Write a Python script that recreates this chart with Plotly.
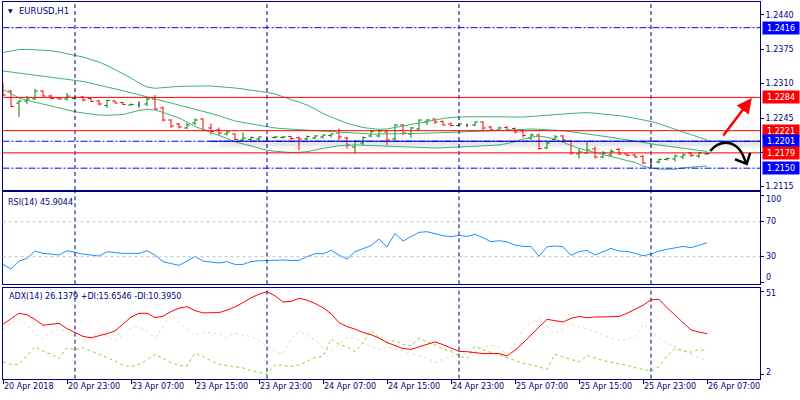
import numpy as np
import plotly.graph_objects as go

# ---------------- data ----------------
opens = [1.23075, 1.22961, 1.22734, 1.22772, 1.22810, 1.22961, 1.22866, 1.22829, 1.22810, 1.22819,
         1.22847, 1.22819, 1.22772, 1.22687, 1.22772, 1.22744, 1.22696, 1.22706, 1.22715, 1.22810,
         1.22640, 1.22412, 1.22336, 1.22261, 1.22355, 1.22431, 1.22261, 1.22223, 1.22147, 1.22147,
         1.22034, 1.22043, 1.22053, 1.22062, 1.22081, 1.22081, 1.22100, 1.22081, 1.22053, 1.22072,
         1.22091, 1.22119, 1.22166, 1.22072, 1.21901, 1.21977, 1.22110, 1.22110, 1.22185, 1.22053,
         1.22317, 1.22147, 1.22242, 1.22374, 1.22431, 1.22384, 1.22336, 1.22308, 1.22308, 1.22317,
         1.22374, 1.22280, 1.22223, 1.22270, 1.22251, 1.22204, 1.22072, 1.22128, 1.21883, 1.22043,
         1.22110, 1.22015, 1.21769, 1.21788, 1.21864, 1.21712, 1.21750, 1.21854, 1.21769, 1.21750,
         1.21722, 1.21608, 1.21617, 1.21665, 1.21674, 1.21712, 1.21788, 1.21731, 1.21769]
highs = [1.23113, 1.22980, 1.22782, 1.22866, 1.23000, 1.22971, 1.22895, 1.22838, 1.22923, 1.22866,
         1.22866, 1.22838, 1.22791, 1.22791, 1.22782, 1.22753, 1.22725, 1.22763, 1.22838, 1.22885,
         1.22668, 1.22421, 1.22355, 1.22355, 1.22441, 1.22441, 1.22345, 1.22270, 1.22223, 1.22157,
         1.22176, 1.22100, 1.22100, 1.22100, 1.22110, 1.22110, 1.22110, 1.22100, 1.22119, 1.22128,
         1.22138, 1.22157, 1.22251, 1.22091, 1.22034, 1.22100, 1.22223, 1.22223, 1.22204, 1.22336,
         1.22336, 1.22280, 1.22421, 1.22431, 1.22441, 1.22403, 1.22365, 1.22345, 1.22345, 1.22384,
         1.22384, 1.22298, 1.22289, 1.22298, 1.22270, 1.22223, 1.22157, 1.22157, 1.22006, 1.22128,
         1.22128, 1.22034, 1.21864, 1.22006, 1.21911, 1.21826, 1.21864, 1.21883, 1.21778, 1.21769,
         1.21750, 1.21674, 1.21684, 1.21703, 1.21760, 1.21778, 1.21807, 1.21807, 1.21797]
lows = [1.22866, 1.22658, 1.22469, 1.22715, 1.22791, 1.22857, 1.22800, 1.22791, 1.22782, 1.22791,
        1.22763, 1.22753, 1.22687, 1.22640, 1.22725, 1.22696, 1.22687, 1.22649, 1.22677, 1.22602,
        1.22384, 1.22261, 1.22251, 1.22242, 1.22317, 1.22204, 1.22138, 1.22128, 1.22119, 1.22034,
        1.22015, 1.22025, 1.22015, 1.22025, 1.22062, 1.22062, 1.22034, 1.21836, 1.22034, 1.22053,
        1.22062, 1.22081, 1.22025, 1.21873, 1.21778, 1.21939, 1.22081, 1.22081, 1.21939, 1.22025,
        1.22128, 1.22081, 1.22223, 1.22317, 1.22336, 1.22308, 1.22289, 1.22298, 1.22280, 1.22298,
        1.22214, 1.22204, 1.22204, 1.22204, 1.22157, 1.22081, 1.22034, 1.21845, 1.21864, 1.22034,
        1.22006, 1.21750, 1.21684, 1.21778, 1.21684, 1.21693, 1.21722, 1.21750, 1.21722, 1.21693,
        1.21580, 1.21523, 1.21589, 1.21646, 1.21627, 1.21674, 1.21712, 1.21693, 1.21750]
closes = [1.22885, 1.22668, 1.22772, 1.22810, 1.22961, 1.22866, 1.22819, 1.22810, 1.22866, 1.22838,
          1.22791, 1.22763, 1.22715, 1.22782, 1.22734, 1.22706, 1.22706, 1.22706, 1.22810, 1.22621,
          1.22412, 1.22298, 1.22279, 1.22317, 1.22412, 1.22223, 1.22195, 1.22166, 1.22185, 1.22043,
          1.22072, 1.22081, 1.22091, 1.22062, 1.22091, 1.22091, 1.22062, 1.22053, 1.22100, 1.22110,
          1.22128, 1.22147, 1.22091, 1.21939, 1.22006, 1.22081, 1.22195, 1.22204, 1.22034, 1.22317,
          1.22166, 1.22261, 1.22412, 1.22412, 1.22374, 1.22317, 1.22308, 1.22336, 1.22308, 1.22374,
          1.22261, 1.22223, 1.22261, 1.22223, 1.22185, 1.22119, 1.22128, 1.21873, 1.21977, 1.22091,
          1.22034, 1.21788, 1.21807, 1.21845, 1.21712, 1.21788, 1.21817, 1.21769, 1.21741, 1.21712,
          1.21598, 1.21608, 1.21665, 1.21684, 1.21731, 1.21750, 1.21741, 1.21788, 1.21778]

bb_upper = [1.23690, 1.23718, 1.23746, 1.23750, 1.23746, 1.23737, 1.23724, 1.23699, 1.23671, 1.23642,
            1.23604, 1.23557, 1.23510, 1.23444, 1.23368, 1.23293, 1.23208, 1.23113, 1.23037, 1.23012,
            1.23018, 1.23037, 1.23050, 1.23056, 1.23056, 1.23056, 1.23056, 1.23047, 1.23037, 1.23018,
            1.22999, 1.22980, 1.22952, 1.22933, 1.22904, 1.22847, 1.22800, 1.22753, 1.22696, 1.22621,
            1.22536, 1.22469, 1.22403, 1.22350, 1.22308, 1.22270, 1.22251, 1.22236, 1.22242, 1.22270,
            1.22298, 1.22327, 1.22355, 1.22380, 1.22421, 1.22440, 1.22459, 1.22469, 1.22474, 1.22474,
            1.22472, 1.22469, 1.22469, 1.22469, 1.22469, 1.22469, 1.22478, 1.22492, 1.22507, 1.22516,
            1.22526, 1.22536, 1.22545, 1.22551, 1.22541, 1.22530, 1.22511, 1.22494, 1.22474, 1.22446,
            1.22416, 1.22384, 1.22340, 1.22289, 1.22245, 1.22195, 1.22138, 1.22087, 1.22034]
bb_middle = [1.23340, 1.23321, 1.23302, 1.23279, 1.23260, 1.23241, 1.23226, 1.23211, 1.23191, 1.23170,
             1.23142, 1.23108, 1.23075, 1.23043, 1.23003, 1.22965, 1.22927, 1.22885, 1.22847, 1.22810,
             1.22772, 1.22734, 1.22696, 1.22664, 1.22621, 1.22574, 1.22536, 1.22492, 1.22441, 1.22393,
             1.22365, 1.22336, 1.22308, 1.22280, 1.22261, 1.22248, 1.22238, 1.22227, 1.22217, 1.22208,
             1.22198, 1.22191, 1.22181, 1.22172, 1.22162, 1.22155, 1.22147, 1.22147, 1.22147, 1.22147,
             1.22151, 1.22155, 1.22159, 1.22162, 1.22166, 1.22170, 1.22176, 1.22181, 1.22185, 1.22193,
             1.22200, 1.22208, 1.22213, 1.22221, 1.22229, 1.22236, 1.22242, 1.22236, 1.22229, 1.22219,
             1.22208, 1.22189, 1.22170, 1.22151, 1.22132, 1.22110, 1.22085, 1.22060, 1.22034, 1.22009,
             1.21985, 1.21962, 1.21939, 1.21920, 1.21898, 1.21873, 1.21851, 1.21832, 1.21817]
bb_lower = [1.22993, 1.22904, 1.22829, 1.22785, 1.22747, 1.22710, 1.22677, 1.22640, 1.22602, 1.22570,
            1.22545, 1.22522, 1.22507, 1.22501, 1.22503, 1.22517, 1.22555, 1.22593, 1.22615, 1.22602,
            1.22555, 1.22498, 1.22450, 1.22374, 1.22289, 1.22232, 1.22179, 1.22128, 1.22062, 1.22000,
            1.21958, 1.21920, 1.21873, 1.21841, 1.21820, 1.21803, 1.21797, 1.21801, 1.21812, 1.21845,
            1.21877, 1.21901, 1.21926, 1.21939, 1.21939, 1.21934, 1.21928, 1.21920, 1.21915, 1.21911,
            1.21905, 1.21901, 1.21896, 1.21890, 1.21883, 1.21888, 1.21898, 1.21905, 1.21911, 1.21917,
            1.21924, 1.21932, 1.21939, 1.21968, 1.22000, 1.22050, 1.22090, 1.22105, 1.22085, 1.22047,
            1.21990, 1.21920, 1.21873, 1.21835, 1.21797, 1.21760, 1.21722, 1.21688, 1.21655, 1.21608,
            1.21542, 1.21504, 1.21481, 1.21476, 1.21480, 1.21504, 1.21523, 1.21532, 1.21542]

rsi = [21.2, 15.9, 25.0, 28.1, 36.5, 33.8, 33.0, 31.9, 36.9, 34.6,
       33.0, 31.9, 30.8, 35.7, 34.6, 33.8, 33.8, 33.8, 36.9, 31.9,
       24.3, 22.0, 20.1, 25.0, 30.4, 25.0, 24.3, 22.8, 24.3, 21.2,
       21.2, 24.3, 25.4, 25.8, 26.2, 26.2, 25.8, 25.8, 30.0, 33.4,
       33.4, 37.2, 31.9, 27.3, 35.7, 39.5, 42.6, 50.2, 41.0, 56.7,
       47.9, 52.9, 57.8, 58.6, 55.9, 54.0, 52.9, 54.4, 53.2, 55.5,
       51.7, 47.1, 48.3, 47.1, 43.3, 41.8, 41.8, 30.4, 41.4, 42.2,
       41.4, 31.5, 35.7, 37.2, 31.9, 36.1, 39.5, 36.5, 36.1, 33.8,
       31.1, 33.0, 36.5, 38.4, 39.9, 41.8, 40.3, 43.3, 45.9044]

adx = [31.7, 34.9, 38.2, 37.3, 34.5, 31.1, 31.5, 32.2, 29.1, 26.9,
       24.5, 23.6, 24.7, 26.1, 27.7, 32.0, 35.9, 38.2, 38.2, 35.6,
       36.4, 39.2, 41.2, 42.1, 39.8, 38.4, 38.3, 38.6, 40.0, 42.0,
       44.5, 47.3, 49.5, 51.0, 48.5, 44.9, 45.2, 47.1, 46.0, 44.0,
       41.5, 38.0, 32.6, 30.3, 28.8, 26.8, 25.5, 23.5, 20.8, 19.0,
       17.3, 16.8, 18.3, 19.8, 21.2, 19.6, 17.5, 15.6, 15.4, 14.9,
       14.3, 14.3, 14.3, 12.9, 16.3, 20.5, 25.5, 30.0, 34.6, 33.8,
       33.0, 35.2, 36.3, 35.5, 36.0, 36.0, 36.0, 36.3, 38.2, 40.5,
       42.9, 46.1, 46.5, 41.5, 37.0, 32.5, 28.3, 27.0, 26.1379]
plus_di = [9.3, 7.9, 7.9, 12.9, 18.4, 15.8, 13.9, 11.3, 17.8, 16.4,
           17.8, 15.8, 13.9, 11.9, 9.9, 7.3, 6.5, 7.9, 10.5, 13.9,
           11.5, 9.0, 7.2, 6.9, 14.5, 12.5, 10.0, 8.0, 7.2, 6.3,
           5.8, 4.2, 3.0, 2.0, 7.7, 7.2, 6.6, 7.5, 9.8, 11.9,
           12.5, 22.8, 19.8, 18.4, 15.5, 20.5, 28.0, 23.7, 20.8, 22.0,
           19.5, 18.8, 23.5, 21.2, 19.4, 17.0, 15.6, 13.1, 11.3, 18.8,
           16.4, 15.2, 13.6, 11.8, 10.0, 8.6, 7.7, 6.4, 5.0, 13.9,
           12.5, 10.9, 9.3, 13.2, 11.6, 10.2, 9.1, 8.2, 7.3, 5.9,
           4.8, 4.0, 6.5, 12.9, 17.3, 15.8, 15.1, 16.8, 15.6546]
minus_di = [28.7, 32.0, 34.6, 31.5, 26.0, 23.2, 27.0, 29.0, 26.7, 24.7,
            21.8, 24.5, 26.5, 24.7, 21.8, 25.7, 29.3, 30.3, 27.5, 23.7,
            30.7, 37.0, 32.6, 29.0, 25.0, 26.7, 26.7, 25.9, 23.5, 26.5,
            25.0, 24.6, 22.0, 18.5, 15.5, 13.9, 23.0, 27.5, 25.0, 22.5,
            17.5, 15.8, 20.0, 23.5, 23.5, 20.5, 18.6, 16.6, 18.5, 17.2,
            15.8, 14.2, 13.0, 11.5, 8.9, 10.9, 12.4, 13.9, 14.3, 15.5,
            18.0, 19.2, 17.8, 13.9, 20.5, 28.7, 32.3, 35.3, 30.5, 26.5,
            28.5, 31.5, 30.0, 29.0, 27.3, 25.5, 23.5, 21.8, 23.0, 24.3,
            31.7, 28.0, 23.4, 20.5, 18.5, 16.1, 14.0, 11.8, 10.3950]

tick_bars = [0, 8, 16, 24, 32, 40, 48, 56, 64, 72, 80, 88]
tick_labels = ["20 Apr 2018", "20 Apr 23:00", "23 Apr 07:00", "23 Apr 15:00",
               "23 Apr 23:00", "24 Apr 07:00", "24 Apr 15:00", "24 Apr 23:00",
               "25 Apr 07:00", "25 Apr 15:00", "25 Apr 23:00", "26 Apr 07:00"]
day_start_bars = [9, 33, 57, 81]

price_ticks = [1.2115, 1.2180, 1.2245, 1.2310, 1.2375, 1.2440]
red_levels = [1.2284, 1.2221, 1.2179]
blue_dashdot_levels = [1.2416, 1.2201, 1.2150]
blue_solid_level = 1.2201
label_levels = [1.2416, 1.2284, 1.2221, 1.2201, 1.2179, 1.2150]
label_kinds = ["blue", "red", "red", "blue", "red", "blue"]
rsi_levels = [30, 70]
rsi_label_vals = [100, 70, 30, 0]
adx_label_vals = [51, 2]

# ---------------- styling ----------------
NAVY = "#000080"
RED = "#FF0000"
BLUE = "#0000FF"
GREEN_BAR = "#008000"
BB = "#3CB371"
FONT = "DejaVu Sans"

n = len(opens)
x = np.arange(n)
o = np.array(opens); h = np.array(highs); l = np.array(lows); c = np.array(closes)
doji = np.isclose(o, c)
nd = ~doji

XR = [-0.0625, 94.625]
XD = [2.5 / 800, 760 / 800]
YD_MAIN = [1 - 190 / 400, 1 - 2 / 400]
YD_RSI = [1 - 284.3 / 400, 1 - 191.7 / 400]
YD_ADX = [1 - 378.7 / 400, 1 - 287.7 / 400]

fig = go.Figure()

# Bollinger bands
for band in (bb_upper, bb_middle, bb_lower):
    fig.add_trace(go.Scatter(x=x, y=band, mode="lines", line=dict(color=BB, width=1),
                             xaxis="x3", yaxis="y3", hoverinfo="skip"))

# bars
fig.add_trace(go.Ohlc(x=x[nd], open=o[nd], high=h[nd], low=l[nd], close=c[nd],
                      increasing=dict(line=dict(color=GREEN_BAR, width=1)),
                      decreasing=dict(line=dict(color=RED, width=1)),
                      tickwidth=0.35, xaxis="x3", yaxis="y3", hoverinfo="skip"))
dx = x[doji]
fig.add_trace(go.Ohlc(x=dx, open=o[doji], high=h[doji], low=l[doji], close=c[doji],
                      increasing=dict(line=dict(color="#000000", width=1)),
                      decreasing=dict(line=dict(color="#000000", width=1)),
                      tickwidth=0.35 / float(np.min(np.diff(dx))), xaxis="x3", yaxis="y3",
                      hoverinfo="skip"))

# RSI
fig.add_trace(go.Scatter(x=x, y=rsi, mode="lines", line=dict(color="#1E90FF", width=1),
                         xaxis="x2", yaxis="y2", hoverinfo="skip"))
# ADX
fig.add_trace(go.Scatter(x=x, y=minus_di, mode="lines",
                         line=dict(color="#F5D7AE", width=1, dash="3px,3px"),
                         xaxis="x", yaxis="y", hoverinfo="skip"))
fig.add_trace(go.Scatter(x=x, y=plus_di, mode="lines",
                         line=dict(color="#9ACD32", width=1, dash="3px,3px"),
                         xaxis="x", yaxis="y", hoverinfo="skip"))
fig.add_trace(go.Scatter(x=x, y=adx, mode="lines", line=dict(color=RED, width=1),
                         xaxis="x", yaxis="y", hoverinfo="skip"))

shapes = []
# shadow under the blue trend segment
for (y0, y1, op, x0) in [(1.21864, 1.22091, 0.04, 25.6), (1.21911, 1.22034, 0.05, 27.0),
                         (1.21930, 1.22010, 0.04, 28.5)]:
    shapes.append(dict(type="rect", xref="x3", yref="y3", x0=x0, x1=XR[1], y0=y0, y1=y1,
                       fillcolor="#404040", opacity=op, line=dict(width=0), layer="below"))
# day separators
for b in day_start_bars:
    for xr, yr in (("x3", "y3 domain"), ("x2", "y2 domain"), ("x", "y domain")):
        shapes.append(dict(type="line", xref=xr, yref=yr, x0=b, x1=b, y0=0, y1=1,
                           line=dict(color=NAVY, width=1, dash="4px,3px")))
# horizontal levels
for lv in blue_dashdot_levels:
    shapes.append(dict(type="line", xref="x3 domain", yref="y3", x0=0, x1=1, y0=lv, y1=lv,
                       line=dict(color=BLUE, width=1, dash="7px,2px,2px,2px")))
shapes.append(dict(type="line", xref="x3", yref="y3", x0=25.6, x1=XR[1],
                   y0=blue_solid_level, y1=blue_solid_level, line=dict(color="#0000CD", width=1)))
for lv in red_levels:
    shapes.append(dict(type="line", xref="x3 domain", yref="y3", x0=0, x1=1, y0=lv, y1=lv,
                       line=dict(color=RED, width=1)))
for lv in rsi_levels:
    shapes.append(dict(type="line", xref="x2 domain", yref="y2", x0=0, x1=1, y0=lv, y1=lv,
                       line=dict(color="#C0C0C0", width=1, dash="3px,3px")))
# black curved arrow (hand drawn)
shapes.append(dict(type="path", xref="x3", yref="y3",
                   path="M 88.4,1.21826 C 89.6,1.22040 91.9,1.22085 92.85,1.21600",
                   line=dict(color="#000000", width=2.5)))
shapes.append(dict(type="path", xref="x3", yref="y3",
                   path="M 91.5,1.21669 L 92.96,1.21580 L 93.4,1.21790",
                   line=dict(color="#000000", width=2.5)))

ann = []
# red arrow
ann.append(dict(x=93.6, y=1.22829, ax=89.9, ay=1.22091, xref="x3", yref="y3",
                axref="x3", ayref="y3", showarrow=True, arrowhead=2, arrowsize=1.2,
                arrowwidth=2.5, arrowcolor=RED, text=""))
# level labels
for lv, kind in zip(label_levels, label_kinds):
    ann.append(dict(xref="paper", yref="y3", x=762 / 800, y=lv, xanchor="left", yanchor="middle",
                    text=f"{lv:.4f}", showarrow=False, bgcolor=RED if kind == "red" else BLUE,
                    font=dict(family=FONT, size=8, color="#FFFFFF"), width=34, height=10,
                    borderpad=1))
# titles
ann.append(dict(xref="paper", yref="paper", x=6 / 800, y=1 - 10.5 / 400, xanchor="left",
                yanchor="middle", text="▼", showarrow=False,
                font=dict(family=FONT, size=6, color=NAVY)))
ann.append(dict(xref="paper", yref="paper", x=17 / 800, y=1 - 11 / 400, xanchor="left",
                yanchor="middle", text="EURUSD,H1", showarrow=False,
                font=dict(family=FONT, size=8.5, color=NAVY)))
ann.append(dict(xref="paper", yref="paper", x=6 / 800, y=1 - 202 / 400, xanchor="left",
                yanchor="middle", text=f"RSI(14) {rsi[-1]:.4f}", showarrow=False,
                font=dict(family=FONT, size=8, color=NAVY)))
ann.append(dict(xref="paper", yref="paper", x=7 / 800, y=1 - 296 / 400, xanchor="left",
                yanchor="middle",
                text=f"ADX(14) {adx[-1]:.4f} +DI:{plus_di[-1]:.4f} -DI:{minus_di[-1]:.4f}",
                showarrow=False, font=dict(family=FONT, size=8, color=NAVY)))
# RSI / ADX scale labels
for v, sh in zip(rsi_label_vals, [-4, 0, 0, 5]):
    ann.append(dict(xref="paper", yref="y2", x=764 / 800, y=v, yshift=sh, xanchor="left",
                    yanchor="middle", text=str(v), showarrow=False,
                    font=dict(family=FONT, size=8, color=NAVY)))
for v, sh in zip(adx_label_vals, [-1.5, 1.5]):
    ann.append(dict(xref="paper", yref="y", x=764 / 800, y=v, yshift=sh, xanchor="left",
                    yanchor="middle", text=str(v), showarrow=False,
                    font=dict(family=FONT, size=8, color=NAVY)))

axis_common = dict(showline=True, mirror=True, linecolor=NAVY, linewidth=1, showgrid=False,
                   zeroline=False, tickfont=dict(family=FONT, size=8, color=NAVY), tickcolor=NAVY)

fig.update_layout(
    width=800, height=400, margin=dict(l=0, r=0, t=0, b=0),
    paper_bgcolor="white", plot_bgcolor="white", showlegend=False,
    shapes=shapes, annotations=ann,
    xaxis=dict(domain=XD, anchor="y", range=XR, tickvals=tick_bars, ticktext=tick_labels,
               ticks="outside", ticklen=4, ticklabelposition="outside right", **axis_common),
    xaxis2=dict(domain=XD, anchor="y2", range=XR, showticklabels=False, ticks="", **axis_common),
    xaxis3=dict(domain=XD, anchor="y3", range=XR, showticklabels=False, ticks="",
                rangeslider=dict(visible=False), **axis_common),
    yaxis=dict(domain=YD_ADX, anchor="x", side="right", range=[-0.61, 53.35],
               tickvals=adx_label_vals, showticklabels=False, ticks="outside", ticklen=3,
               **axis_common),
    yaxis2=dict(domain=YD_RSI, anchor="x2", side="right", range=[-1.54, 104.29],
                tickvals=rsi_label_vals, showticklabels=False, ticks="outside", ticklen=3,
                **axis_common),
    yaxis3=dict(domain=YD_MAIN, anchor="x3", side="right", range=[1.21087, 1.24646],
                tickvals=price_ticks, tickformat=".4f", ticks="outside", ticklen=3,
                **axis_common),
)

fig.write_html("out.html", config={"displayModeBar": False},
               post_script="document.body.style.margin='0px';document.body.style.overflow='hidden';")
